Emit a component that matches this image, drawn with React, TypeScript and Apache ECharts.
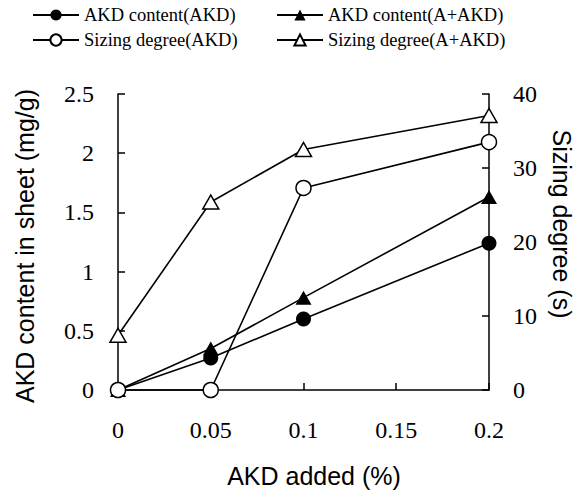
import React, { useEffect, useRef } from "react";
import * as echarts from "echarts";

const xValues = [0, 0.05, 0.1, 0.2];
const akdContentAKD = [0, 0.27, 0.6, 1.24];
const akdContentAAKD = [0, 0.35, 0.78, 1.63];
const sizingAKD = [0, 0, 27.3, 33.5];
const sizingAAKD = [7.4, 25.4, 32.5, 37.1];
const seriesNames = [
  "AKD content(AKD)",
  "AKD content(A+AKD)",
  "Sizing degree(AKD)",
  "Sizing degree(A+AKD)",
];
const xTitle = "AKD added (%)";
const yLeftTitle = "AKD content in sheet (mg/g)";
const yRightTitle = "Sizing degree (s)";

const SERIF = "'Liberation Serif', 'Times New Roman', serif";
const SANS = "'Liberation Sans', Arial, sans-serif";

function pairs(ys: number[]) {
  return xValues.map((x, i) => [x, ys[i]]);
}

export default function App() {
  const ref = useRef<HTMLDivElement>(null);
  useEffect(() => {
    document.body.style.margin = "0";
    if (!ref.current) return;
    const chart = echarts.init(ref.current, undefined, { renderer: "svg" });
    const lineStyle = { color: "#000", width: 1.6 };
    const legendBase = {
      orient: "vertical" as const,
      padding: 0,
      itemWidth: 46,
      itemHeight: 14,
      itemGap: 5,
      textStyle: { fontFamily: SERIF, fontSize: 18.5, color: "#000", lineHeight: 20 },
    };
    const axisCommon = {
      axisLine: { show: true, lineStyle: { color: "#000", width: 1.5 } },
      axisTick: { show: true, inside: true, length: 7, lineStyle: { color: "#000", width: 1.5 } },
      splitLine: { show: false },
      axisLabel: { fontFamily: SERIF, fontSize: 24, color: "#000" },
    };
    chart.setOption({
      animation: false,
      backgroundColor: "#fff",
      grid: { left: 118, right: 87, top: 94, bottom: 105 },
      legend: [
        { ...legendBase, left: 32, top: 5, data: [seriesNames[0], seriesNames[2]] },
        { ...legendBase, left: 276, top: 5, data: [seriesNames[1], seriesNames[3]] },
      ],
      xAxis: {
        type: "value",
        min: 0,
        max: 0.2,
        interval: 0.05,
        ...axisCommon,
        axisLabel: { ...axisCommon.axisLabel, margin: 28 },
      },
      yAxis: [
        {
          type: "value",
          min: 0,
          max: 2.5,
          interval: 0.5,
          position: "left",
          ...axisCommon,
          axisLabel: { ...axisCommon.axisLabel, margin: 24 },
        },
        {
          type: "value",
          min: 0,
          max: 40,
          interval: 10,
          position: "right",
          ...axisCommon,
          axisLabel: { ...axisCommon.axisLabel, margin: 24 },
        },
      ],
      graphic: [
        {
          type: "text",
          x: 25,
          y: 246,
          rotation: Math.PI / 2,
          style: {
            text: yLeftTitle,
            font: `25px ${SANS}`,
            fill: "#000",
            align: "center",
            verticalAlign: "middle",
          },
        },
        {
          type: "text",
          x: 562,
          y: 224,
          rotation: -Math.PI / 2,
          style: {
            text: yRightTitle,
            font: `25px ${SANS}`,
            fill: "#000",
            align: "center",
            verticalAlign: "middle",
          },
        },
        {
          type: "text",
          x: 314,
          y: 476,
          style: {
            text: xTitle,
            font: `25px ${SANS}`,
            fill: "#000",
            align: "center",
            verticalAlign: "middle",
          },
        },
      ],
      series: [
        {
          name: seriesNames[0],
          type: "line",
          yAxisIndex: 0,
          data: pairs(akdContentAKD),
          symbol: "circle",
          symbolSize: 15,
          clip: false,
          lineStyle,
          itemStyle: { color: "#000" },
        },
        {
          name: seriesNames[1],
          type: "line",
          yAxisIndex: 0,
          data: pairs(akdContentAAKD),
          symbol: "triangle",
          symbolSize: [16, 14],
          clip: false,
          lineStyle,
          itemStyle: { color: "#000" },
        },
        {
          name: seriesNames[2],
          type: "line",
          yAxisIndex: 1,
          data: pairs(sizingAKD),
          symbol: "circle",
          symbolSize: 15,
          clip: false,
          lineStyle,
          itemStyle: { color: "#fff", borderColor: "#000", borderWidth: 1.5 },
        },
        {
          name: seriesNames[3],
          type: "line",
          yAxisIndex: 1,
          data: pairs(sizingAAKD),
          symbol: "triangle",
          symbolSize: [16, 14],
          clip: false,
          lineStyle,
          itemStyle: { color: "#fff", borderColor: "#000", borderWidth: 1.5 },
        },
      ],
    });
    return () => chart.dispose();
  }, []);
  return <div ref={ref} style={{ width: 576, height: 495 }} />;
}
